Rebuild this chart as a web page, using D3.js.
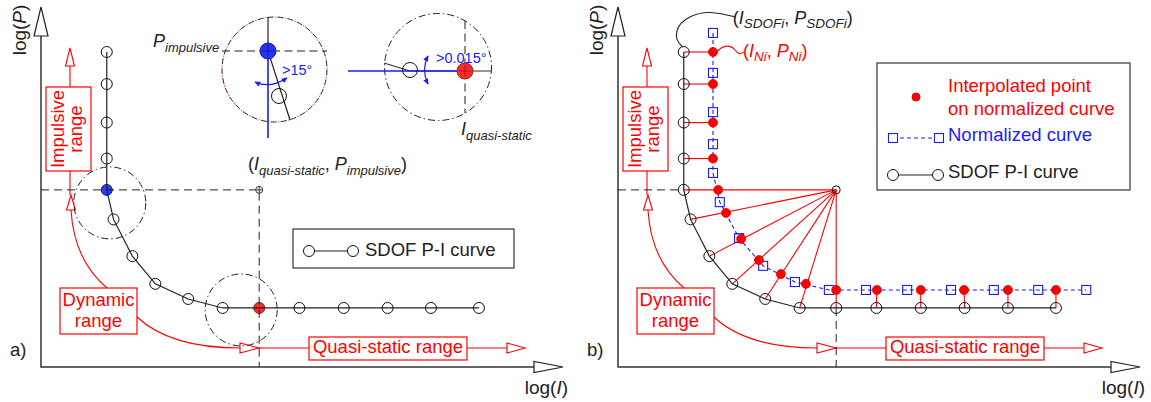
<!DOCTYPE html>
<html>
<head>
<meta charset="utf-8">
<script src="https://cdn.jsdelivr.net/npm/d3@7"></script>
<style>
  body { margin: 0; background: #fff; }
  text { font-family: "Liberation Sans", Arial, sans-serif; }
</style>
</head>
<body>
<svg id="chart" width="1151" height="402"></svg>
<script>
// P-I diagram values, in percent of each axis length (log scale units)
// SDOF P-I curve: impulsive asymptote, dynamic range, quasi-static asymptote
const sdofI = [12.6, 12.6, 12.6, 12.6, 12.6, 13.9, 17.5, 21.9, 28.2, 34.8, 41.8, 49.5, 58.0, 66.4, 74.7, 83.9];
const sdofP = [87.5, 78.6, 67.9, 57.9, 49.2, 41.0, 30.8, 23.1, 18.9, 16.4, 16.4, 16.4, 16.4, 16.4, 16.4, 16.4];
// Normalized curve
const normI = [18.2, 18.2, 18.2, 18.2, 18.2, 19.5, 23.2, 27.8, 33.9, 40.4, 47.5, 55.4, 63.8, 72.0, 80.5, 89.7];
const normP = [92.8, 81.7, 70.8, 61.9, 53.9, 45.8, 35.8, 28.1, 23.6, 21.4, 21.4, 21.4, 21.4, 21.4, 21.4, 21.4];
// Points interpolated on the normalized curve, one per SDOF point
const interpI = [18.2, 18.2, 18.2, 18.2, 19.2, 20.7, 23.6, 27.0, 31.2, 36.0, 41.8, 49.6, 58.0, 66.3, 74.7, 83.9];
const interpP = [87.5, 78.6, 67.9, 57.9, 49.2, 42.8, 35.6, 29.7, 25.8, 23.1, 21.4, 21.4, 21.4, 21.4, 21.4, 21.4];

const impulsiveIdx = 4;      // last point on the impulsive asymptote
const quasiStaticIdx = 10;   // first point on the quasi-static asymptote
const panelLabels = ["a)", "b)"];
const rangeLabels = { impulsive: ["Impulsive", "range"], dynamic: ["Dynamic", "range"], quasi: "Quasi-static range" };
const legendLeft = ["SDOF P-I curve"];
const legendRight = ["Interpolated point", "on normalized curve", "Normalized curve", "SDOF P-I curve"];

const RED = "#ff0000", BLUE = "#1a1aff", INK = "#222";
const svg = d3.select("#chart");

const defs = svg.append("defs");
defs.append("marker").attr("id", "bhead").attr("viewBox", "0 0 8 8")
  .attr("refX", 7).attr("refY", 4).attr("markerWidth", 6).attr("markerHeight", 6)
  .attr("markerUnits", "userSpaceOnUse").attr("orient", "auto-start-reverse")
  .append("path").attr("d", "M0,0.5L8,4L0,7.5Z").attr("fill", BLUE);

// text with italic symbols and subscripts
function rich(g, x, y, parts, o) {
  const t = g.append("text").attr("x", x).attr("y", y)
    .attr("font-size", o.size).attr("fill", o.color || INK);
  if (o.anchor) t.attr("text-anchor", o.anchor);
  let shift = 0;
  parts.forEach(([s, kind]) => {
    const ts = t.append("tspan").text(s);
    const want = kind === "sub" ? (o.subDy || 5) : 0;
    if (want !== shift) { ts.attr("dy", want - shift); shift = want; }
    if (kind === "i" || kind === "sub") ts.attr("font-style", "italic");
    if (kind === "sub") ts.attr("font-size", o.subSize || 13);
  });
  return t;
}

function makePanel(ox) {
  const g = svg.append("g").attr("transform", `translate(${ox},0)`);
  const x = d3.scaleLinear().domain([0, 100]).range([41, 563]);
  const y = d3.scaleLinear().domain([0, 100]).range([367, 7]);
  return { g, x, y };
}

function drawAxes(p, k) {
  const { g, x, y } = p;
  const ax = x(0), ay = y(0), top = y(100), right = x(100);
  g.append("path").attr("d", `M${ax},${top + 29}V${ay}H${right - 29}`)
    .attr("fill", "none").attr("stroke", "#333").attr("stroke-width", 1.5);
  g.append("path").attr("d", `M${ax},${top}L${ax + 7},${top + 29}H${ax - 7}Z`)
    .attr("fill", "#fff").attr("stroke", INK).attr("stroke-width", 1.2);
  g.append("path").attr("d", `M${right},${ay}L${right - 29},${ay - 5.5}V${ay + 5.5}Z`)
    .attr("fill", "#fff").attr("stroke", INK).attr("stroke-width", 1.2);
  rich(g.append("g").attr("transform", `translate(${ax - 15},30) rotate(-90)`), 0, 0,
    [["log("], ["P", "i"], [")"]], { size: 19, anchor: "middle" });
  rich(g, right + 5, 394, [["log("], ["I", "i"], [")"]], { size: 19, anchor: "end" });
  g.append("text").attr("x", ax - 31).attr("y", 356).attr("font-size", 18.5).attr("fill", INK).text(panelLabels[k]);
}

function openArrow(g, tx, ty, dir, len, half) {
  let d;
  if (dir === "up") d = `M${tx},${ty}L${tx + half},${ty + len}H${tx - half}Z`;
  else d = `M${tx},${ty}L${tx - len},${ty - half}V${ty + half}Z`;
  g.append("path").attr("d", d).attr("fill", "#fff").attr("stroke", RED).attr("stroke-width", 1.1);
}

function redBox(g, x0, y0, x1, y1) {
  g.append("rect").attr("x", x0).attr("y", y0).attr("width", x1 - x0).attr("height", y1 - y0)
    .attr("fill", "#fff").attr("stroke", RED).attr("stroke-width", 1.2);
}

function drawRanges(p) {
  const g = p.g.append("g");
  const line = (d) => g.append("path").attr("d", d).attr("fill", "none").attr("stroke", RED).attr("stroke-width", 1.1);
  // impulsive range
  line("M70,195V66");
  openArrow(g, 70, 48, "up", 18, 4.5);
  redBox(g, 46, 87, 91, 171);
  const t = g.append("text").attr("transform", "translate(68.5,129) rotate(-90)")
    .attr("text-anchor", "middle").attr("font-size", 18.5).attr("fill", RED);
  t.append("tspan").attr("x", 0).attr("y", -4.5).text(rangeLabels.impulsive[0]);
  t.append("tspan").attr("x", 0).attr("y", 13.5).text(rangeLabels.impulsive[1]);
  // dynamic range
  line("M71,210Q74,260 107,288");
  openArrow(g, 71, 195, "up", 15, 4.5);
  redBox(g, 60, 288, 137, 334);
  g.append("text").attr("x", 98.5).attr("y", 306).attr("text-anchor", "middle")
    .attr("font-size", 18.5).attr("fill", RED).text(rangeLabels.dynamic[0]);
  g.append("text").attr("x", 98.5).attr("y", 327).attr("text-anchor", "middle")
    .attr("font-size", 18.5).attr("fill", RED).text(rangeLabels.dynamic[1]);
  line("M137,317Q170,348 240,348");
  line("M240,348H507");
  openArrow(g, 259, 348, "right", 19, 5);
  // quasi-static range
  redBox(g, 309, 337, 467, 360);
  g.append("text").attr("x", 388).attr("y", 353).attr("text-anchor", "middle")
    .attr("font-size", 18.5).attr("fill", RED).text(rangeLabels.quasi);
  openArrow(g, 525, 348, "right", 18, 5);
}

const sdof = sdofI.map((v, i) => [v, sdofP[i]]);
const norm = normI.map((v, i) => [v, normP[i]]);
const interp = interpI.map((v, i) => [v, interpP[i]]);

function sdofCurve(p, skip) {
  const { g, x, y } = p;
  const line = d3.line().x(d => x(d[0])).y(d => y(d[1]));
  g.append("path").datum(sdof).attr("d", line).attr("fill", "none")
    .attr("stroke", INK).attr("stroke-width", 1.2);
  g.append("g").selectAll("circle").data(sdof.filter((d, i) => !skip.includes(i))).join("circle")
    .attr("cx", d => x(d[0])).attr("cy", d => y(d[1])).attr("r", 5.5)
    .attr("fill", "none").attr("stroke", "#111").attr("stroke-width", 1);
}

function dashDotCircle(g, cx, cy, r, dots) {
  g.append("circle").attr("cx", cx).attr("cy", cy).attr("r", r).attr("fill", "none")
    .attr("stroke", "#222").attr("stroke-width", 1).attr("stroke-dasharray", dots ? "6 4" : "7 3 1.5 3");
  if (dots) {
    g.append("circle").attr("cx", cx).attr("cy", cy).attr("r", r).attr("fill", "none")
      .attr("stroke", "#ff6060").attr("stroke-width", 1.2).attr("stroke-dasharray", "1.5 8.5")
      .attr("stroke-dashoffset", -7.25);
  }
}

// ---------- panel a ----------
{
  const p = makePanel(0);
  const { g, x, y } = p;
  drawAxes(p, 0);
  drawRanges(p);
  const iQ = sdofI[quasiStaticIdx], pImp = sdofP[impulsiveIdx];

  dashDotCircle(g, x(sdofI[impulsiveIdx]) + 3, y(pImp) + 13, 36, false);
  dashDotCircle(g, x(iQ) - 18, y(sdofP[quasiStaticIdx]) + 2, 36, false);

  g.append("circle").attr("cx", x(sdofI[impulsiveIdx])).attr("cy", y(pImp)).attr("r", 5.5)
    .attr("fill", "#2a3aff").attr("stroke", "#1a1a80").attr("stroke-width", 1);
  g.append("circle").attr("cx", x(iQ)).attr("cy", y(sdofP[quasiStaticIdx])).attr("r", 5.5)
    .attr("fill", "#ff2a2a").attr("stroke", "#801a1a").attr("stroke-width", 1);

  sdofCurve(p, [impulsiveIdx, quasiStaticIdx]);

  g.append("path").attr("d", `M${x(0)},${y(pImp)}H${x(iQ)}V${y(0)}`)
    .attr("fill", "none").attr("stroke", INK).attr("stroke-width", 1).attr("stroke-dasharray", "8 5");
  g.append("circle").attr("cx", x(iQ)).attr("cy", y(pImp)).attr("r", 3.5)
    .attr("fill", "#fff").attr("stroke", INK).attr("stroke-width", 0.9);
  g.append("path").attr("d", `M${x(iQ) - 3.5},${y(pImp)}h7M${x(iQ)},${y(pImp) - 3.5}v7`)
    .attr("stroke", INK).attr("stroke-width", 0.9);

  rich(g, 248, 170, [["("], ["I", "i"], ["quasi-static", "sub"], [", "], ["P", "i"], ["impulsive", "sub"], [")"]],
    { size: 18, subSize: 13, subDy: 5 });

  // legend
  g.append("rect").attr("x", 293).attr("y", 229).attr("width", 221).attr("height", 39)
    .attr("fill", "#fff").attr("stroke", "#333").attr("stroke-width", 1.2);
  g.append("line").attr("x1", 309).attr("x2", 353).attr("y1", 251).attr("y2", 251)
    .attr("stroke", INK).attr("stroke-width", 1.2);
  g.selectAll("circle.lg").data([309, 353]).join("circle").attr("class", "lg")
    .attr("cx", d => d).attr("cy", 251).attr("r", 5.5).attr("fill", "#fff").attr("stroke", "#111");
  g.append("text").attr("x", 365).attr("y", 256).attr("font-size", 18.5).attr("fill", INK).text(legendLeft[0]);

  // close-up of the impulsive asymptote
  {
    const c = { x: 274.5, y: 69.5, r: 52.5 }, bx = 268, by = 51;
    dashDotCircle(g, c.x, c.y, c.r, true);
    g.append("path").attr("d", `M222,${by}H327`).attr("stroke", INK).attr("stroke-width", 1.1).attr("stroke-dasharray", "8 4.5");
    g.append("path").attr("d", `M${bx},17V${by}L290,120`).attr("fill", "none").attr("stroke", INK).attr("stroke-width", 1.2);
    g.append("path").attr("d", `M${bx},${by}V138`).attr("stroke", BLUE).attr("stroke-width", 1.6);
    g.append("circle").attr("cx", 279).attr("cy", 96).attr("r", 7.5).attr("fill", "none").attr("stroke", "#111");
    g.append("circle").attr("cx", bx).attr("cy", by).attr("r", 8).attr("fill", "#2233ff").attr("stroke", "#1a1a90");
    g.append("path").attr("d", `M${bx - 6},${by}h12M${bx},${by - 6}v12`).attr("stroke", "#1a1a70").attr("stroke-width", 0.8);
    g.append("path").attr("d", "M255,82Q270,89 287,78").attr("fill", "none").attr("stroke", BLUE).attr("stroke-width", 1.2)
      .attr("marker-start", "url(#bhead)").attr("marker-end", "url(#bhead)");
    g.append("text").attr("x", 282).attr("y", 75).attr("font-size", 14.5).attr("fill", BLUE).text(">15°");
    rich(g, 153, 47, [["P", "i"], ["impulsive", "sub"]], { size: 18, subSize: 13, subDy: 5 });
  }
  // close-up of the quasi-static asymptote
  {
    const c = { x: 438, y: 67, r: 53.5 }, rx = 465, ry = 71;
    dashDotCircle(g, c.x, c.y, c.r, false);
    g.append("path").attr("d", `M${rx},21V113`).attr("stroke", "#333").attr("stroke-width", 1.1).attr("stroke-dasharray", "8 4.5");
    g.append("path").attr("d", `M384,63L410,${ry}H492`).attr("fill", "none").attr("stroke", "#333").attr("stroke-width", 1.2);
    g.append("path").attr("d", `M348,${ry}H${rx}`).attr("stroke", BLUE).attr("stroke-width", 1.6);
    g.append("circle").attr("cx", 410).attr("cy", 70).attr("r", 7.5).attr("fill", "none").attr("stroke", "#111");
    g.append("circle").attr("cx", rx).attr("cy", ry).attr("r", 8).attr("fill", "#ff2a2a").attr("stroke", "#992020");
    g.append("path").attr("d", `M${rx - 6},${ry}h12M${rx},${ry - 6}v12`).attr("stroke", "#802020").attr("stroke-width", 0.8);
    g.append("path").attr("d", "M428,56Q421,70 428,84").attr("fill", "none").attr("stroke", BLUE).attr("stroke-width", 1.2)
      .attr("marker-start", "url(#bhead)").attr("marker-end", "url(#bhead)");
    g.append("text").attr("x", 436).attr("y", 63).attr("font-size", 14.5).attr("fill", BLUE).text(">0.015°");
    rich(g, 461, 135, [["I", "i"], ["quasi-static", "sub"]], { size: 18, subSize: 13, subDy: 5 });
  }
}

// ---------- panel b ----------
{
  const p = makePanel(577);
  const { g, x, y } = p;
  drawAxes(p, 1);
  drawRanges(p);
  const iQ = sdofI[quasiStaticIdx], pImp = sdofP[impulsiveIdx];
  const pivot = [iQ, pImp];

  // rays from SDOF points to the interpolated points
  const segs = sdof.map((d, i) => (i >= impulsiveIdx && i <= quasiStaticIdx) ? [d, pivot] : [d, interp[i]]);
  g.append("g").selectAll("line").data(segs).join("line")
    .attr("x1", s => x(s[0][0])).attr("y1", s => y(s[0][1]))
    .attr("x2", s => x(s[1][0])).attr("y2", s => y(s[1][1]))
    .attr("stroke", RED).attr("stroke-width", 1.1);

  g.append("path").attr("d", `M${x(0)},${y(pImp)}H${x(sdofI[0])}M${x(iQ)},${y(sdofP[quasiStaticIdx])}V${y(0)}`)
    .attr("fill", "none").attr("stroke", INK).attr("stroke-width", 1).attr("stroke-dasharray", "8 5");

  sdofCurve(p, []);

  const line = d3.line().x(d => x(d[0])).y(d => y(d[1]));
  g.append("path").datum(norm).attr("d", line).attr("fill", "none")
    .attr("stroke", BLUE).attr("stroke-width", 1.1).attr("stroke-dasharray", "4 3");
  g.append("g").selectAll("rect").data(norm).join("rect")
    .attr("x", d => x(d[0]) - 4.5).attr("y", d => y(d[1]) - 4.5).attr("width", 9).attr("height", 9)
    .attr("fill", "none").attr("stroke", BLUE).attr("stroke-width", 1.1);
  g.append("g").selectAll("circle").data(interp).join("circle")
    .attr("cx", d => x(d[0])).attr("cy", d => y(d[1])).attr("r", 4.5)
    .attr("fill", RED).attr("stroke", "#e00000").attr("stroke-width", 0.8);
  g.append("circle").attr("cx", x(pivot[0])).attr("cy", y(pivot[1])).attr("r", 4)
    .attr("fill", "none").attr("stroke", "#111").attr("stroke-width", 1);

  // point labels with leaders
  const s0 = sdof[0], n0 = interp[0];
  g.append("path").attr("d", `M${x(s0[0]) - 1},${y(s0[1]) - 5}C${x(s0[0]) - 12},${y(s0[1]) - 14} ${x(s0[0]) - 8},${y(s0[1]) - 28} ${x(s0[0]) + 6},${y(s0[1]) - 35}S${x(s0[0]) + 32},${y(s0[1]) - 40} ${x(s0[0]) + 52},${y(s0[1]) - 35}`)
    .attr("fill", "none").attr("stroke", INK).attr("stroke-width", 1.1);
  rich(g, x(s0[0]) + 49, 24, [["("], ["I", "i"], ["SDOFi", "sub"], [", "], ["P", "i"], ["SDOFi", "sub"], [")"]],
    { size: 18, subSize: 13.5, subDy: 4 });
  g.append("path").attr("d", `M${x(n0[0]) + 4},${y(n0[1])}C${x(n0[0]) + 10},${y(n0[1]) - 8} ${x(n0[0]) + 18},${y(n0[1]) - 7} ${x(n0[0]) + 22},${y(n0[1]) - 2}S${x(n0[0]) + 27},${y(n0[1]) + 2} ${x(n0[0]) + 31},${y(n0[1])}`)
    .attr("fill", "none").attr("stroke", RED).attr("stroke-width", 1.1);
  rich(g, x(n0[0]) + 30, 57, [["("], ["I", "i"], ["Ni", "sub"], [", "], ["P", "i"], ["Ni", "sub"], [")"]],
    { size: 18, subSize: 13.5, subDy: 4, color: RED });

  // legend
  g.append("rect").attr("x", 300).attr("y", 63).attr("width", 253).attr("height", 127)
    .attr("fill", "#fff").attr("stroke", "#333").attr("stroke-width", 1.2);
  g.append("circle").attr("cx", 339).attr("cy", 97).attr("r", 4).attr("fill", RED).attr("stroke", "#e00000");
  g.append("text").attr("x", 371).attr("y", 92).attr("font-size", 18.5).attr("fill", RED).text(legendRight[0]);
  g.append("text").attr("x", 371).attr("y", 115).attr("font-size", 18.5).attr("fill", RED).text(legendRight[1]);
  g.append("line").attr("x1", 316).attr("x2", 362).attr("y1", 138).attr("y2", 138)
    .attr("stroke", BLUE).attr("stroke-width", 1.1).attr("stroke-dasharray", "4 3");
  g.selectAll("rect.lg").data([316, 362]).join("rect").attr("class", "lg")
    .attr("x", d => d - 4.5).attr("y", 133.5).attr("width", 9).attr("height", 9)
    .attr("fill", "#fff").attr("stroke", BLUE).attr("stroke-width", 1.1);
  g.append("text").attr("x", 371).attr("y", 141).attr("font-size", 18.5).attr("fill", BLUE).text(legendRight[2]);
  g.append("line").attr("x1", 316).attr("x2", 361).attr("y1", 175).attr("y2", 175)
    .attr("stroke", INK).attr("stroke-width", 1.2);
  g.selectAll("circle.lg").data([316, 361]).join("circle").attr("class", "lg")
    .attr("cx", d => d).attr("cy", 175).attr("r", 5.5).attr("fill", "#fff").attr("stroke", "#111");
  g.append("text").attr("x", 371).attr("y", 178).attr("font-size", 18.5).attr("fill", INK).text(legendRight[3]);
}
</script>
</body>
</html>
